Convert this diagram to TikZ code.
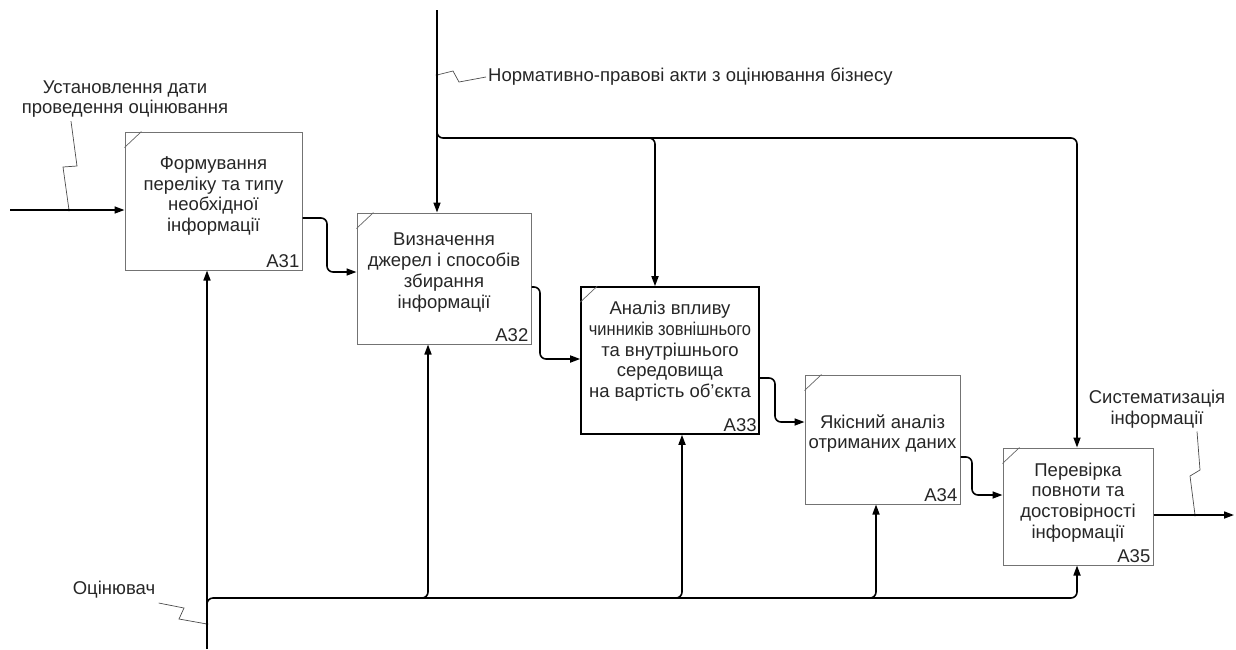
\documentclass[tikz,border=0pt]{standalone}
\usepackage{fontspec}
\usepackage{graphicx}
\setmainfont{Liberation Sans}
\usetikzlibrary{arrows.meta}

\begin{document}
\begin{tikzpicture}[
x=1pt,y=-1pt,
font=\fontsize{18.5}{20.7}\selectfont,
every node/.style={text=black!85,align=center},
box/.style={draw=black!55,line width=1pt,inner sep=0pt},
mainbox/.style={draw=black,line width=1.6pt,inner sep=0pt},
boxid/.style={anchor=south east,inner sep=3pt},
corner/.style={draw=black!60,line width=0.7pt},
flow/.style={line width=1.6pt,rounded corners=6pt,-{Triangle[length=10pt,width=7pt]}},
squig/.style={draw=black!70,line width=0.7pt}
]
\useasboundingbox (0,0) rectangle (1236,649);

% activity boxes
\node[box,minimum width=177,minimum height=138] (a31) at (213.5,201) {};
\node[box,minimum width=174,minimum height=131] (a32) at (444,278.5) {};
\node[mainbox,minimum width=178,minimum height=147] (a33) at (670,360.5) {};
\node[box,minimum width=155,minimum height=129] (a34) at (882.5,439.5) {};
\node[box,minimum width=150,minimum height=117] (a35) at (1078,506.5) {};

\node (t31) at ([yshift=5pt]a31.center) {Формування\\переліку та типу\\необхідної\\інформації};
\node (t32) at ([yshift=6pt]a32.center) {Визначення\\джерел і способів\\збирання\\інформації};
\node (t33) at ([yshift=9pt]a33.center) {Аналіз впливу\\\scalebox{0.89}[1]{чинників зовнішнього}\\та внутрішнього\\середовища\\на вартість об'єкта};
\node (t34) at ([yshift=6pt]a34.center) {Якісний аналіз\\отриманих даних};
\node (t35) at ([yshift=4pt]a35.center) {Перевірка\\повноти та\\достовірності\\інформації};

\node[boxid] (n31) at (a31.south east) {A31};
\node[boxid] (n32) at (a32.south east) {A32};
\node[boxid] (n33) at (a33.south east) {A33};
\node[boxid] (n34) at (a34.south east) {A34};
\node[boxid] (n35) at (a35.south east) {A35};

\draw[corner] ([yshift=-16pt]a31.north west) -- ([xshift=17pt]a31.north west);
\draw[corner] ([yshift=-16pt]a32.north west) -- ([xshift=17pt]a32.north west);
\draw[corner] ([yshift=-16pt]a33.north west) -- ([xshift=17pt]a33.north west);
\draw[corner] ([yshift=-16pt]a34.north west) -- ([xshift=17pt]a34.north west);
\draw[corner] ([yshift=-16pt]a35.north west) -- ([xshift=17pt]a35.north west);

% labels
\node (lin) at (125,99) {Установлення дати\\проведення оцінювання};
\node[anchor=west,inner sep=2pt] (lctl) at (486,77) {Нормативно-правові акти з оцінювання бізнесу};
\node (lout) at (1157,409) {Систематизація\\інформації};
\node (lmech) at (114,590) {Оцінювач};

\coordinate (in1) at (10,210);
\coordinate (out1) at (1234,515);
\coordinate (ctl) at (437,10);
\coordinate (mech) at (207,649);

% input and output
\draw[flow] (in1) -- (a31.west |- in1);
\draw[flow] (a35.east |- out1) -- (out1);

% chain between boxes
\draw[flow] (a31.east |- 0,218) -- (327,218) -- (327,272) -- (a32.west |- 0,272);
\draw[flow] (a32.east |- 0,287) -- (540,287) -- (540,359) -- (a33.west |- 0,359);
\draw[flow] (a33.east |- 0,378) -- (775,378) -- (775,422) -- (a34.west |- 0,422);
\draw[flow] (a34.east |- 0,457) -- (972,457) -- (972,495) -- (a35.west |- 0,495);

% controls
\draw[flow] (ctl) -- (ctl |- a32.north);
\draw[flow] (437,120) -- (437,138) -- (1077,138) -- (1077,0 |- a35.north);
\draw[flow] (645,138) -- (655,138) -- (655,0 |- a33.north);

% mechanisms
\draw[flow] (mech) -- (mech |- a31.south);
\draw[flow] (207,610) -- (207,598) -- (1077,598) -- (1077,0 |- a35.south);
\draw[flow] (418,598) -- (428,598) -- (428,0 |- a32.south);
\draw[flow] (672,598) -- (682,598) -- (682,0 |- a33.south);
\draw[flow] (866,598) -- (876,598) -- (876,0 |- a34.south);

% label squiggles
\draw[squig] (69,210) -- (63,167) -- (77,166) -- (71,0 |- lin.south);
\draw[squig] (437,75) -- (453,71) -- (459,82) -- (lctl.west);
\draw[squig] (1195,515) -- (1190,476) -- (1200,470) -- (1197,0 |- lout.south);
\draw[squig] (lmech.east |- 0,603) -- (184,608) -- (179,619) -- (207,624);
\fill (69,210) circle (1.3) (437,75) circle (1.3) (1195,515) circle (1.3) (207,624) circle (1.3);
\end{tikzpicture}
\end{document}
